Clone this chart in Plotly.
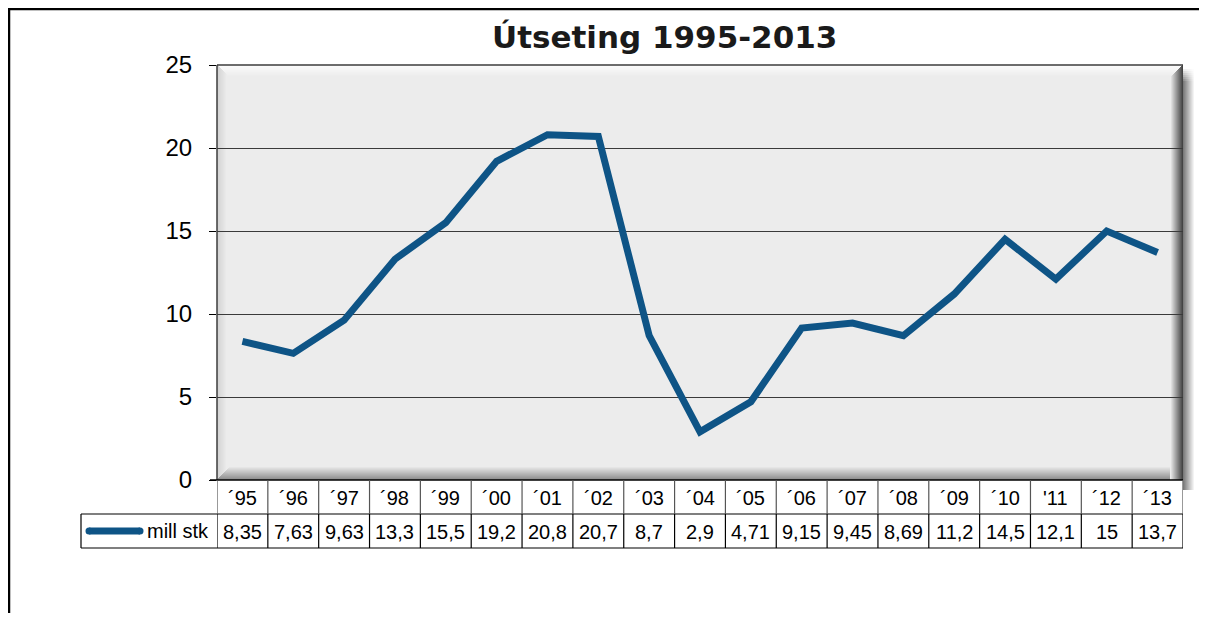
import plotly.graph_objects as go

# ---- data ----
categories = ["´95", "´96", "´97", "´98", "´99", "´00", "´01", "´02", "´03", "´04",
              "´05", "´06", "´07", "´08", "´09", "´10", "'11", "´12", "´13"]
values = [8.35, 7.63, 9.63, 13.3, 15.5, 19.2, 20.8, 20.7, 8.7, 2.9,
          4.71, 9.15, 9.45, 8.69, 11.2, 14.5, 12.1, 15, 13.7]
series_name = "mill stk"
title_text = "Útseting 1995-2013"
y_ticks = [0, 5, 10, 15, 20, 25]

# ---- geometry (page pixels; page body has an 8px margin) ----
OFF = 8
PAGE_W, PAGE_H = 1207, 621
FW, FH = PAGE_W - OFF, PAGE_H - 2 * OFF
L, R, T, B = 217, 1183, 65, 480
PW, PH = R - L, B - T
LINE_COLOR = "#0E5486"
FONT = "Liberation Sans, Arial, sans-serif"


def px(x):
    return (x - L) / PW


def py(y):
    return (B - y) / PH


def mix(c1, c2, t):
    a = [int(c1[i:i + 2], 16) for i in (1, 3, 5)]
    b = [int(c2[i:i + 2], 16) for i in (1, 3, 5)]
    return "#%02x%02x%02x" % tuple(round(a[i] + (b[i] - a[i]) * t) for i in range(3))


shapes = []


def rect(x0, y0, x1, y1, color, layer="below"):
    shapes.append(dict(type="rect", xref="paper", yref="paper",
                       x0=px(x0), x1=px(x1), y0=py(y1), y1=py(y0),
                       fillcolor=color, line=dict(width=0), layer=layer))


def hline(x0, x1, y, color, w=1, layer="above"):
    shapes.append(dict(type="line", xref="paper", yref="paper",
                       x0=px(x0), x1=px(x1), y0=py(y), y1=py(y),
                       line=dict(color=color, width=w), layer=layer))


def vline(x, y0, y1, color, w=1, layer="above"):
    shapes.append(dict(type="line", xref="paper", yref="paper",
                       x0=px(x), x1=px(x), y0=py(y0), y1=py(y1),
                       line=dict(color=color, width=w), layer=layer))


# outer shadow to the right of plot area (soft fade in at the top)
N = 12
for i in range(N):
    base = mix("#7a7a7a", "#ffffff", i / (N - 1))
    for j in range(6):
        rect(R + i, T + 4 + j * 2, R + i + 1, T + 6 + j * 2, mix("#ffffff", base, (j + 1) / 7))
    rect(R + i, T + 16, R + i + 1, B + 10, base)
# bevel bands
for i in range(N):
    t = i / (N - 1)
    rect(L, T + i, R, T + i + 1, mix("#fbfbfb", "#ececec", t))          # top
for i in range(10):
    t = i / 9
    rect(L + i, T + i, L + i + 1, B, mix("#d2d2d2", "#ececec", t))      # left
for i in range(14):
    t = i / 13
    rect(L + i, B - i - 1, R, B - i, mix("#8c8c8c", "#ececec", t))      # bottom
for i in range(13):
    t = i / 12
    rect(R - i - 1, T + i, R - i, B, mix("#444444", "#ececec", t))      # right

# plot frame
hline(L, R, T, "#3c3c3c", 1.5)
vline(L, T, B, "#3c3c3c", 1.5)

# outer chart border (left and top)
hline(8, 1203, 9, "#000000", 2.5)
vline(9, 8, 621, "#000000", 2.5)

# ---- data table ----
ROW0, ROW1, ROW2 = 480, 514, 548
hline(L - 7, R, ROW0, "#000000", 1.5)
hline(81, R, ROW1, "#000000", 1.2)
hline(81, R, ROW2, "#000000", 1.2)
vline(81, ROW1, ROW2, "#000000", 1.2)
for k in range(len(categories) + 1):
    xk = k - 0.5
    shapes.append(dict(type="line", xref="x", yref="paper", x0=xk, x1=xk,
                       y0=py(ROW1), y1=py(ROW0), line=dict(color="#555555", width=1.2),
                       layer="above"))
    shapes.append(dict(type="line", xref="x", yref="paper", x0=xk, x1=xk,
                       y0=py(ROW2), y1=py(ROW1), line=dict(color="#000000", width=1.2),
                       layer="above"))

# legend key in table
ly = (ROW1 + ROW2) / 2
hline(89, 140, ly, LINE_COLOR, 7)
for cx in (89, 140):
    shapes.append(dict(type="circle", xref="paper", yref="paper",
                       x0=px(cx - 3.5), x1=px(cx + 3.5), y0=py(ly + 3.5), y1=py(ly - 3.5),
                       fillcolor=LINE_COLOR, line=dict(width=0), layer="above"))

annotations = []
annotations.append(dict(text=series_name, xref="paper", yref="paper", x=px(145), y=py(ly),
                        xanchor="left", yanchor="middle", showarrow=False,
                        font=dict(family=FONT, size=20, color="#000000")))
for i, (c, v) in enumerate(zip(categories, values)):
    annotations.append(dict(text=c, xref="x", yref="paper", x=i, y=py((ROW0 + ROW1) / 2 + 1),
                            xanchor="center", yanchor="middle", showarrow=False,
                            font=dict(family=FONT, size=20, color="#000000")))
    label = ("%g" % v).replace(".", ",")
    annotations.append(dict(text=label, xref="x", yref="paper", x=i, y=py(ly + 1),
                            xanchor="center", yanchor="middle", showarrow=False,
                            font=dict(family=FONT, size=20, color="#000000")))

# title
annotations.append(dict(text="<b>" + title_text + "</b>", xref="paper", yref="paper",
                        x=px(664), y=py(37), xanchor="center", yanchor="middle",
                        showarrow=False,
                        font=dict(family="DejaVu Sans, Verdana, sans-serif", size=31,
                                  color="#1a1a1a")))

fig = go.Figure()
fig.add_trace(go.Scatter(x=categories, y=values, mode="lines", name=series_name,
                         line=dict(color=LINE_COLOR, width=7), showlegend=False,
                         hoverinfo="skip"))

fig.update_layout(
    width=FW, height=FH,
    margin=dict(l=L - OFF, r=PAGE_W - R, t=T - OFF, b=(OFF + FH) - B, pad=0),
    paper_bgcolor="#ffffff",
    plot_bgcolor="#ececec",
    showlegend=False,
    shapes=shapes,
    annotations=annotations,
    xaxis=dict(type="category", range=[-0.5, len(categories) - 0.5],
               showticklabels=False, showgrid=False, zeroline=False, showline=False,
               ticks="", fixedrange=True),
    yaxis=dict(range=[0, 25], tickvals=y_ticks, showgrid=True, gridcolor="#3a3a3a",
               gridwidth=1, zeroline=False, showline=False, ticks="outside",
               ticklen=7, tickcolor="#000000", tickwidth=1.2, ticklabelstandoff=12,
               tickfont=dict(family=FONT, size=24, color="#000000"), fixedrange=True),
)

fig.write_html("out.html")
